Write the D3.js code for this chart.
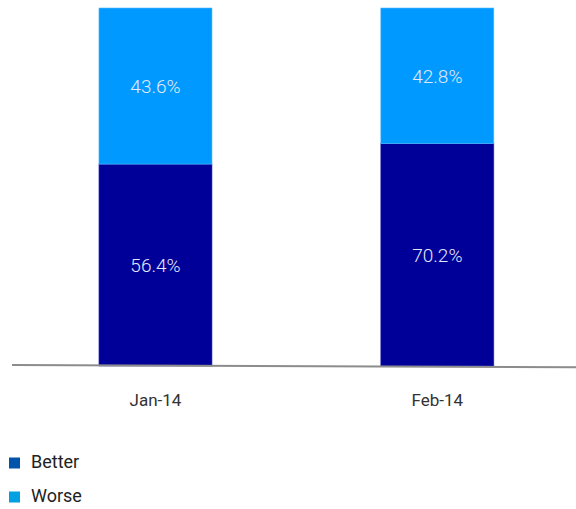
<!DOCTYPE html>
<html>
<head>
<meta charset="utf-8">
<script src="https://cdn.jsdelivr.net/npm/d3@7"></script>
<style>
  html, body { margin: 0; padding: 0; background: #fff; }
  svg { display: block; }
</style>
</head>
<body>
<svg id="chart" width="576" height="509"></svg>
<script>
// Survey periods and the share of answers per outcome
const categories = ["Jan-14", "Feb-14"];
const seriesNames = ["Better", "Worse"];
const better = [56.4, 70.2];
const worse = [43.6, 42.8];

const barColors = { Better: "#000099", Worse: "#0099ff" };
const legendColors = { Better: "#0055aa", Worse: "#00a0e3" };
const fontFamily = "Roboto, 'Liberation Sans', Arial, sans-serif";

const svg = d3.select("#chart");
const baseY = 366, topY = 8;

const x = d3.scaleBand()
  .domain(categories)
  .range([14.4, 578.4])
  .paddingInner(0.599)
  .paddingOuter(0.3);

// Each column is drawn as a 100% stack; labels keep the raw values
const y = d3.scaleLinear().domain([0, 100]).range([baseY, topY]);

const rows = categories.map((c, i) => ({ cat: c, Better: better[i], Worse: worse[i] }));
const stack = d3.stack().keys(seriesNames).offset(d3.stackOffsetExpand);
const layers = stack(rows);

const g = svg.append("g");
layers.forEach(layer => {
  const key = layer.key;
  layer.forEach(d => {
    const y0 = y(d[0] * 100), y1 = y(d[1] * 100);
    g.append("rect")
      .attr("x", x(d.data.cat))
      .attr("y", y1)
      .attr("width", x.bandwidth())
      .attr("height", y0 - y1)
      .attr("fill", barColors[key])
      .attr("stroke", key === "Worse" ? "#55bbff" : "#3333bb")
      .attr("stroke-width", 0.6);
    g.append("text")
      .attr("x", x(d.data.cat) + x.bandwidth() / 2)
      .attr("y", (y0 + y1) / 2)
      .attr("dy", "0.36em")
      .attr("text-anchor", "middle")
      .attr("font-family", fontFamily)
      .attr("font-size", 19)
      .attr("font-weight", 300)
      .attr("fill", "#e2eaf8")
      .text(d.data[key].toFixed(1) + "%");
  });
});

// Baseline
svg.append("line")
  .attr("x1", 12).attr("y1", baseY - 1)
  .attr("x2", 576).attr("y2", baseY + 1.3)
  .attr("stroke", "#8c8c8c")
  .attr("stroke-width", 2);

// Category labels
svg.append("g").selectAll("text")
  .data(categories)
  .join("text")
  .attr("x", d => x(d) + x.bandwidth() / 2)
  .attr("y", 405.5)
  .attr("text-anchor", "middle")
  .attr("font-family", fontFamily)
  .attr("font-size", 17)
  .attr("fill", "#333")
  .text(d => d);

// Legend
const legend = svg.append("g").selectAll("g")
  .data(seriesNames)
  .join("g")
  .attr("transform", (d, i) => `translate(9, ${457.5 + i * 34})`);
legend.append("rect")
  .attr("width", 11).attr("height", 11)
  .attr("fill", d => legendColors[d]);
legend.append("text")
  .attr("x", 22).attr("y", 10.8)
  .attr("font-family", fontFamily)
  .attr("font-size", 18)
  .attr("fill", "#222")
  .text(d => d);
</script>
</body>
</html>
